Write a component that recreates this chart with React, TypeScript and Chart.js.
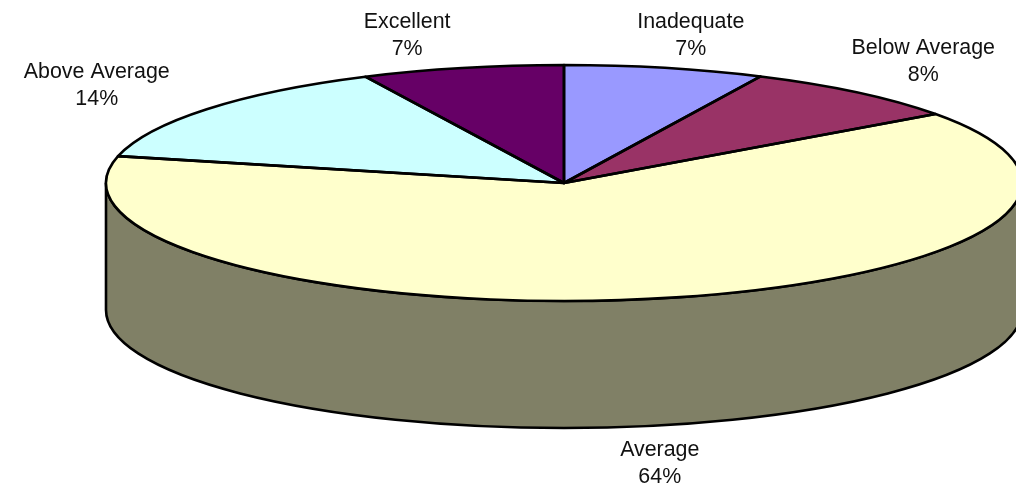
import React, { useEffect, useRef } from "react";
import { Chart, registerables } from "chart.js";

Chart.register(...registerables);

const categories = ["Inadequate", "Below Average", "Average", "Above Average", "Excellent"];
const values = [7.06, 8.0, 63.6, 14.2, 7.14];
const topColors = ["#9999FF", "#993366", "#FFFFCC", "#CCFFFF", "#660066"];
const sideColors = ["#4D4D80", "#4D1A33", "#808066", "#668080", "#330033"];

// Label block offset from the middle of each slice's rim
const labelOffsets = [
  [26, -32.5],
  [66, -30.5],
  [6, 165],
  [-110, -23.5],
  [-55, -32],
];

const view = { cx: 564, cy: 183, rx: 458, ry: 118, depth: 127 };
const font = '21.4px "Liberation Sans", Arial, sans-serif';
const lineHeight = 27;
const outline = 2.6;

const pie3d = {
  id: "pie3d",
  beforeDatasetsDraw(chart: any) {
    const ctx = chart.ctx;
    const arcs = chart.getDatasetMeta(0).data;
    const { cx, cy, rx, ry, depth } = view;
    ctx.save();
    ctx.lineWidth = outline;
    ctx.strokeStyle = "#000";
    arcs.forEach((a: any, i: number) => {
      const s = Math.max(a.startAngle, 0);
      const e = Math.min(a.endAngle, Math.PI);
      if (e <= s) return;
      ctx.beginPath();
      ctx.ellipse(cx, cy + depth, rx, ry, 0, s, e);
      ctx.ellipse(cx, cy, rx, ry, 0, e, s, true);
      ctx.closePath();
      ctx.fillStyle = sideColors[i];
      ctx.fill();
      ctx.stroke();
    });
    ctx.restore();
    const a0 = arcs[0];
    const R = a0.outerRadius;
    ctx.save();
    ctx.translate(cx, cy);
    ctx.scale(rx / R, ry / R);
    ctx.translate(-a0.x, -a0.y);
  },
  afterDatasetsDraw(chart: any) {
    const ctx = chart.ctx;
    ctx.restore();
    const arcs = chart.getDatasetMeta(0).data;
    const { cx, cy, rx, ry } = view;
    const R = arcs[0].outerRadius;
    ctx.save();
    ctx.lineWidth = outline;
    ctx.lineJoin = "round";
    ctx.strokeStyle = "#000";
    arcs.forEach((a: any) => {
      ctx.save();
      ctx.translate(cx, cy);
      ctx.scale(rx / R, ry / R);
      ctx.translate(-a.x, -a.y);
      ctx.beginPath();
      ctx.moveTo(a.x, a.y);
      ctx.arc(a.x, a.y, R, a.startAngle, a.endAngle);
      ctx.closePath();
      ctx.restore();
      ctx.stroke();
    });
    ctx.restore();
  },
  afterDraw(chart: any) {
    const ctx = chart.ctx;
    const arcs = chart.getDatasetMeta(0).data;
    const { cx, cy, rx, ry } = view;
    const total = values.reduce((p, v) => p + v, 0);
    ctx.save();
    ctx.font = font;
    ctx.fillStyle = "#111";
    ctx.textAlign = "center";
    ctx.textBaseline = "middle";
    arcs.forEach((a: any, i: number) => {
      const mid = (a.startAngle + a.endAngle) / 2;
      const x = cx + Math.cos(mid) * rx + labelOffsets[i][0];
      const y = cy + Math.sin(mid) * ry + labelOffsets[i][1];
      ctx.fillText(categories[i], x, y - lineHeight / 2);
      ctx.fillText(`${Math.round((values[i] / total) * 100)}%`, x, y + lineHeight / 2);
    });
    ctx.restore();
  },
};

export default function App() {
  const ref = useRef<HTMLCanvasElement>(null);
  useEffect(() => {
    const chart = new Chart(ref.current as HTMLCanvasElement, {
      type: "pie",
      data: {
        labels: categories,
        datasets: [{ data: values, backgroundColor: topColors, borderWidth: 0, clip: false } as any],
      },
      options: {
        animation: false,
        responsive: false,
        events: [],
        layout: { padding: 0 },
        plugins: { legend: { display: false }, tooltip: { enabled: false } },
      },
      plugins: [pie3d],
    });
    return () => chart.destroy();
  }, []);
  return (
    <div style={{ position: "fixed", left: 0, top: 0, width: 1016, height: 492, background: "#fff" }}>
      <canvas ref={ref} width={1016} height={492} style={{ display: "block" }} />
    </div>
  );
}
